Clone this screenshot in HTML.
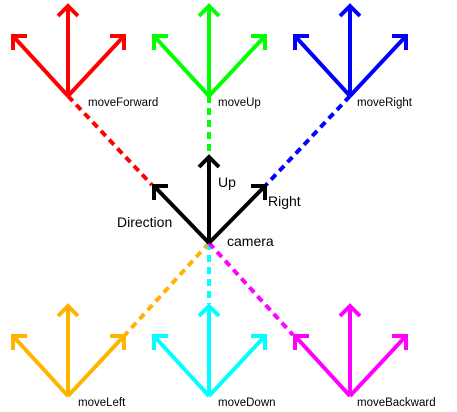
<!DOCTYPE html>
<html><head><style>body{margin:0;background:#fff}svg{display:block}text{font-family:"Liberation Sans",sans-serif;fill:#000}</style></head>
<body>
<svg width="457" height="412" viewBox="0 0 457 412" xmlns="http://www.w3.org/2000/svg">
<g stroke-width="4" fill="none">
<g stroke-dasharray="7,5">
<line x1="68" y1="96" x2="152" y2="185" stroke="#ff0000"/>
<line x1="209" y1="96" x2="209" y2="155" stroke="#00ff00"/>
<line x1="350" y1="96" x2="266" y2="185" stroke="#0000ff"/>
<line x1="209" y1="243" x2="125" y2="335" stroke="#ffb400"/>
<line x1="209" y1="243" x2="209" y2="304" stroke="#00ffff"/>
<line x1="209" y1="243" x2="293" y2="335" stroke="#ff00ff"/>
</g>
<g stroke="#ff0000"><path d="M68,96L68,6M58,16L68,6L78,16"/><path d="M68,96L13,36M13,50L13,36L27,36"/><path d="M68,96L124,36M110,36L124,36L124,50"/></g>
<g stroke="#00ff00"><path d="M209,96L209,6M199,16L209,6L219,16"/><path d="M209,96L154,36M154,50L154,36L168,36"/><path d="M209,96L265,36M251,36L265,36L265,50"/></g>
<g stroke="#0000ff"><path d="M350,96L350,6M340,16L350,6L360,16"/><path d="M350,96L295,36M295,50L295,36L309,36"/><path d="M350,96L406,36M392,36L406,36L406,50"/></g>
<g stroke="#ffb400"><path d="M68,396L68,306M58,316L68,306L78,316"/><path d="M68,396L13,336M13,350L13,336L27,336"/><path d="M68,396L124,336M110,336L124,336L124,350"/></g>
<g stroke="#00ffff"><path d="M209,396L209,306M199,316L209,306L219,316"/><path d="M209,396L154,336M154,350L154,336L168,336"/><path d="M209,396L265,336M251,336L265,336L265,350"/></g>
<g stroke="#ff00ff"><path d="M350,396L350,306M340,316L350,306L360,316"/><path d="M350,396L295,336M295,350L295,336L309,336"/><path d="M350,396L406,336M392,336L406,336L406,350"/></g>
<g stroke="#000"><path d="M209,243L209,157M199,167L209,157L219,167"/><path d="M209,243L154,186M154,200L154,186L168,186"/><path d="M209,243L265,186M251,186L265,186L265,200"/></g>
</g>
<g font-size="11.5">
<text x="88" y="106">moveForward</text>
<text x="218" y="106">moveUp</text>
<text x="357" y="106">moveRight</text>
<text x="78" y="406">moveLeft</text>
<text x="218" y="406">moveDown</text>
<text x="357" y="406">moveBackward</text>
</g>
<g font-size="14">
<text x="218" y="187">Up</text>
<text x="268" y="206">Right</text>
<text x="117" y="227">Direction</text>
<text x="227" y="246">camera</text>
</g>
</svg>
</body></html>
